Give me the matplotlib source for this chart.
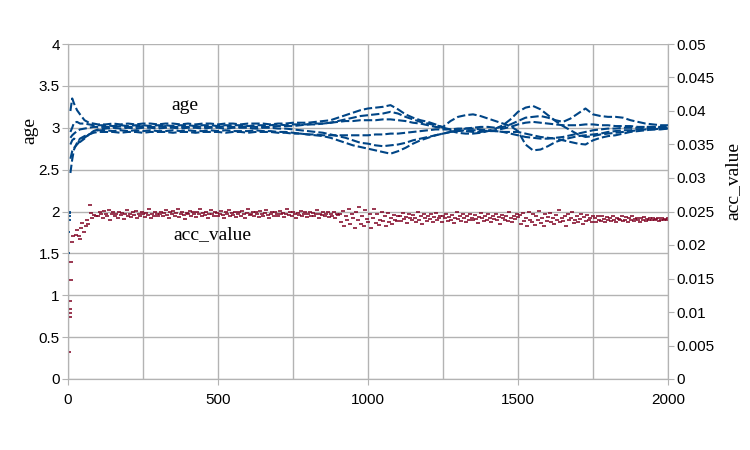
import matplotlib.pyplot as plt
from matplotlib.ticker import MultipleLocator, FuncFormatter

# ---- age: six traces, early samples then every 25 steps ----
age_x_start = [8, 14, 20, 30, 40, 55, 70, 85, 100]
age_x_main = list(range(125, 2001, 25))

age_a = [3.20, 3.35, 3.29, 3.21, 3.16, 3.09, 3.06, 3.05, 3.04,
         3.04, 3.05, 3.04, 3.05, 3.04, 3.05, 3.05, 3.04, 3.05, 3.05,
         3.04, 3.05, 3.04, 3.05, 3.05, 3.04, 3.05, 3.05, 3.04, 3.05,
         3.05, 3.05, 3.04, 3.05, 3.05, 3.06, 3.06, 3.06, 3.07, 3.08,
         3.09, 3.12, 3.15, 3.18, 3.21, 3.23, 3.24, 3.25, 3.27, 3.22, 3.16, 3.12, 3.09, 3.07, 3.04, 3.00,
         2.96, 2.94, 2.93, 2.93, 2.94, 2.96, 2.99, 3.03, 3.10, 3.19,
         3.24, 3.26, 3.22, 3.15, 3.08, 3.02, 2.97, 2.92, 2.89, 2.90,
         2.92, 2.93, 2.94, 2.95, 2.96, 2.97, 2.98, 2.98, 2.99, 2.99]
age_b = [2.95, 3.00, 3.06, 3.07, 3.05, 3.05, 3.04, 3.03, 3.03,
         3.03, 3.02, 3.03, 3.02, 3.03, 3.03, 3.02, 3.03, 3.03, 3.02,
         3.03, 3.03, 3.02, 3.03, 3.03, 3.02, 3.03, 3.03, 3.03, 3.02,
         3.03, 3.03, 3.03, 3.04, 3.03, 3.04, 3.04, 3.04, 3.05, 3.05,
         3.06, 3.08, 3.10, 3.12, 3.14, 3.15, 3.16, 3.17, 3.19, 3.17, 3.13, 3.10, 3.07, 3.05, 3.03, 3.01,
         3.08, 3.13, 3.15, 3.16, 3.14, 3.11, 3.08, 3.05, 3.02, 2.96,
         2.80, 2.73, 2.74, 2.78, 2.83, 2.86, 2.88, 2.90, 2.91, 2.92,
         2.93, 2.95, 2.96, 2.97, 2.97, 2.98, 2.99, 3.00, 3.00, 3.00]
age_c = [2.80, 2.85, 2.87, 2.85, 2.83, 2.87, 2.92, 2.95, 2.97,
         2.97, 2.96, 2.97, 2.96, 2.97, 2.96, 2.97, 2.96, 2.96, 2.97,
         2.96, 2.97, 2.96, 2.96, 2.97, 2.96, 2.97, 2.96, 2.96, 2.96,
         2.97, 2.96, 2.96, 2.95, 2.95, 2.94, 2.93, 2.92, 2.91, 2.90,
         2.88, 2.85, 2.82, 2.79, 2.77, 2.75, 2.73, 2.71, 2.69, 2.72, 2.76, 2.81, 2.85, 2.88, 2.91, 2.93,
         2.95, 2.96, 2.97, 2.97, 2.97, 2.96, 2.96, 2.95, 2.95, 2.95,
         2.93, 2.91, 2.89, 2.88, 2.87, 2.85, 2.83, 2.81, 2.80, 2.85,
         2.88, 2.90, 2.91, 2.93, 2.95, 2.96, 2.97, 2.98, 2.98, 2.99]
age_d = [2.63, 2.72, 2.76, 2.80, 2.84, 2.88, 2.92, 2.96, 2.98,
         2.99, 3.00, 2.99, 3.00, 2.99, 3.00, 3.00, 2.99, 3.00, 3.00,
         2.99, 3.00, 3.00, 2.99, 3.00, 3.00, 2.99, 3.00, 3.00, 3.00,
         2.99, 3.00, 3.00, 2.99, 2.99, 2.98, 2.97, 2.96, 2.95, 2.94,
         2.92, 2.90, 2.88, 2.85, 2.82, 2.81, 2.79, 2.78, 2.79, 2.80, 2.82, 2.85, 2.87, 2.89, 2.91, 2.93,
         2.95, 2.97, 2.99, 3.00, 3.01, 3.01, 3.00, 3.01, 3.04, 3.08,
         3.12, 3.13, 3.14, 3.12, 3.09, 3.07, 3.11, 3.17, 3.23, 3.16,
         3.14, 3.13, 3.13, 3.12, 3.09, 3.07, 3.05, 3.04, 3.03, 3.03]
age_e = [2.88, 2.91, 2.93, 2.96, 2.98, 2.99, 3.00, 3.01, 3.01,
         3.01, 3.01, 3.02, 3.01, 3.01, 3.02, 3.01, 3.01, 3.02, 3.01,
         3.01, 3.01, 3.02, 3.01, 3.01, 3.01, 3.02, 3.01, 3.01, 3.02,
         3.01, 3.01, 3.01, 3.02, 3.02, 3.02, 3.03, 3.04, 3.04, 3.05,
         3.06, 3.07, 3.08, 3.08, 3.09, 3.09, 3.09, 3.10, 3.10, 3.09, 3.08, 3.06, 3.05, 3.03, 3.01, 3.00,
         2.98, 2.97, 2.96, 2.95, 2.95, 2.96, 2.97, 2.99, 3.01, 3.04,
         3.06, 3.07, 3.06, 3.05, 3.04, 3.03, 3.03, 3.03, 3.04, 3.04,
         3.03, 3.03, 3.02, 3.02, 3.02, 3.01, 3.01, 3.01, 3.00, 3.00]
age_f = [2.46, 2.62, 2.74, 2.82, 2.87, 2.90, 2.92, 2.94, 2.95,
         2.95, 2.95, 2.94, 2.95, 2.95, 2.94, 2.95, 2.95, 2.95, 2.94,
         2.95, 2.95, 2.94, 2.95, 2.95, 2.95, 2.94, 2.95, 2.95, 2.94,
         2.95, 2.95, 2.95, 2.94, 2.94, 2.93, 2.93, 2.92, 2.92, 2.91,
         2.91, 2.91, 2.91, 2.91, 2.91, 2.91, 2.92, 2.92, 2.93, 2.93, 2.94, 2.95, 2.96, 2.97, 2.98, 2.98,
         2.98, 2.99, 2.99, 2.99, 2.98, 2.97, 2.96, 2.95, 2.93, 2.91,
         2.89, 2.88, 2.87, 2.87, 2.88, 2.89, 2.91, 2.93, 2.95, 2.97,
         2.98, 2.99, 2.99, 3.00, 3.00, 3.00, 3.01, 3.01, 3.01, 3.02]

# first few age readings, before the traces settle
age0_x = [1, 1, 2, 2, 3, 3]
age0_y = [1.50, 1.76, 1.90, 1.95, 1.98, 2.00]

# ---- acc_value ----
acc0_x = [4, 7, 7, 8, 8, 9, 11, 14, 18, 25, 31, 36, 40, 44, 48, 53, 59, 64, 68, 73, 76, 80, 87, 93]
acc0_y = [0.0041, 0.0093, 0.0099, 0.0105, 0.0116, 0.0148, 0.0174, 0.0205, 0.0214, 0.0215,
          0.0223, 0.0213, 0.0209, 0.0225, 0.0233, 0.0220, 0.0228, 0.0238, 0.0231, 0.0259,
          0.0248, 0.0241, 0.0245, 0.0243]

acc_x = list(range(100, 2001, 5))
# values in units of 1e-4
acc_raw = [
    243, 249, 246, 240, 251, 247, 244, 252, 238, 246,
    249, 243, 247, 241, 250, 245, 248, 239, 246, 252,
    244, 247, 242, 249, 245, 251, 240, 247, 244, 250,
    246, 242, 248, 245, 253, 241, 247, 244, 249, 246,
    243,
    247, 250, 243, 248, 252, 245, 241, 249, 246, 251,
    244, 248, 253, 242, 247, 250, 245, 239, 248, 246,
    251, 244, 249, 247, 242, 250, 246, 253, 243, 248,
    245, 249, 241, 247, 252, 246, 243, 250, 248, 244,
    247, 251, 245, 240, 249, 246, 252, 243, 248, 245,
    250, 242, 247, 249, 244, 251, 246, 241, 248, 253,
    245, 247, 250, 243, 249, 246, 242, 251, 247, 244,
    248, 252, 245, 241, 247, 250, 244, 249, 246, 243,
    251, 246, 248, 242, 247, 253, 245, 249, 244, 250,
    246, 241, 248, 245, 251, 243, 247, 249, 242, 246,
    250, 244, 248, 243, 246, 252, 240, 247, 245, 249,
    243, 247, 250, 242, 246, 244, 249, 241, 247, 245,
    246, 235, 251, 229, 243, 238, 254, 232, 247, 240,
    226, 249, 237, 256, 231, 244, 228, 252, 239, 234,
    247, 225, 241, 253, 233, 246, 230, 238, 250, 236,
    243, 229, 248, 235, 241, 232, 245, 238, 236, 243,
    244, 236, 248, 239, 242, 233, 246, 240, 237, 245,
    241, 235, 249, 238, 243, 232, 247, 240, 236, 244,
    239, 246, 234, 242, 248, 237, 241, 244, 235, 243,
    240, 247, 236, 242, 238, 245, 233, 241, 249, 239,
    243, 236, 246, 240, 234, 244, 238, 247, 241, 237,
    245, 239, 233, 242, 248, 240, 236, 244, 238, 246,
    241, 235, 243, 239, 247, 237, 242, 232, 245, 240,
    238, 244, 236, 249, 241, 235, 243, 239, 246, 242,
    245, 232, 248, 236, 241, 228, 250, 238, 234, 246,
    230, 243, 237, 251, 233, 240, 229, 247, 236, 242,
    248, 235, 240, 231, 245, 238, 252, 234, 241, 236,
    243, 229, 246, 237, 240, 249, 233, 238, 244, 235,
    239, 247, 232, 242, 236, 245, 238, 241, 234, 243,
    241, 235, 243, 238, 236, 244, 239, 234, 242, 237,
    240, 236, 243, 238, 235, 241, 239, 237, 244, 236,
    238, 242, 235, 240, 237, 243, 236, 239, 241, 238,
    235, 240, 238, 242, 236, 239, 237, 241, 238, 240,
    237, 239, 241, 236, 238, 240, 237, 239, 238, 240,
]
acc_y = [v * 1e-4 for v in acc_raw]

blue = "#004586"
red = "#7e0021"
grid = "#b3b3b3"

fig = plt.figure(figsize=(7.5, 4.5), dpi=100)
ax = fig.add_axes([68 / 750, 1 - 379 / 450, 600 / 750, 335 / 450])
ax2 = ax.twinx()

age_x = age_x_start + age_x_main
for tr in [age_a, age_b, age_c, age_d, age_e, age_f]:
    ax.plot(age_x, tr, color=blue, lw=1.5, ls=(0, (4, 1.5)), zorder=3)
ax.plot(age0_x, age0_y, ls="none", marker="_", ms=2.5, mew=1.3, color=blue, zorder=3)

ax2.plot(acc0_x, acc0_y, ls="none", marker="_", ms=2.5, mew=1.1, color=red)
ax2.plot(acc_x, acc_y, ls="none", marker="_", ms=2.5, mew=1.1, color=red)

ax.set_xlim(0, 2000)
ax.set_ylim(0, 4)
ax2.set_ylim(0, 0.05)

fmt = FuncFormatter(lambda v, p: "{:g}".format(round(v, 6)))
ax.xaxis.set_major_locator(MultipleLocator(500))
ax.xaxis.set_minor_locator(MultipleLocator(250))
ax.yaxis.set_major_locator(MultipleLocator(0.5))
ax2.yaxis.set_major_locator(MultipleLocator(0.005))
ax.yaxis.set_major_formatter(fmt)
ax2.yaxis.set_major_formatter(fmt)
ax.xaxis.set_major_formatter(fmt)

ax.grid(True, which="both", color=grid, lw=1)
ax.set_axisbelow(True)
for a in (ax, ax2):
    for s in a.spines.values():
        s.set_color(grid)
    a.spines["top"].set_visible(False)
ax.tick_params(which="major", length=4, color=grid, labelsize=11, pad=2)
ax.tick_params(axis="x", which="major", pad=6)
ax.tick_params(which="minor", length=0)
ax2.tick_params(length=4, color=grid, labelsize=11, pad=2)
for lab in ax.get_xticklabels() + ax.get_yticklabels() + ax2.get_yticklabels():
    lab.set_fontfamily("Liberation Sans")

ax.set_ylabel("age", family="Liberation Serif", fontsize=14)
ax.yaxis.set_label_coords(-0.05, 0.743)
ax2.set_ylabel("acc_value", family="Liberation Serif", fontsize=14)
ax2.yaxis.set_label_coords(1.095, 0.591)

ax.text(390, 3.27, "age", family="Liberation Serif", fontsize=14, ha="center", va="center")
ax.text(480, 1.72, "acc_value", family="Liberation Serif", fontsize=14, ha="center", va="center")

fig.savefig("out.png", dpi=100)
